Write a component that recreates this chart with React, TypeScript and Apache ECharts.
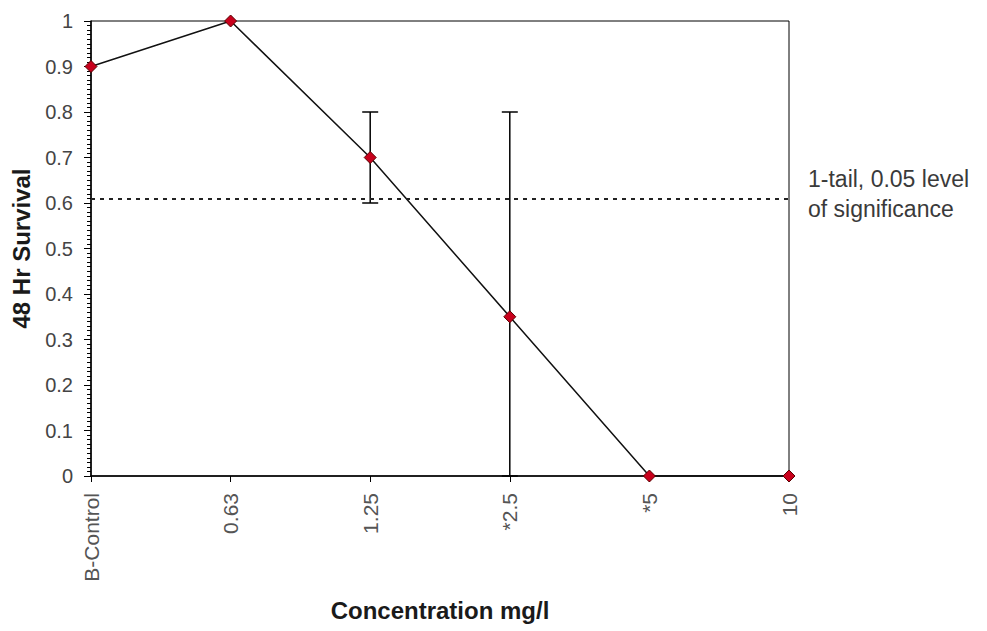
import React, { useEffect, useRef } from "react";
import * as echarts from "echarts";

const categories = ["B-Control", "0.63", "1.25", "*2.5", "*5", "10"];
const survival = [0.9, 1.0, 0.7, 0.35, 0, 0];
const errLow = [null, null, 0.6, 0, null, null];
const errHigh = [null, null, 0.8, 0.8, null, null];
const significance = 0.61;
const noteLines = ["1-tail, 0.05 level", "of significance"];

export default function App() {
  const ref = useRef<HTMLDivElement>(null);
  useEffect(() => {
    if (!ref.current) return;
    const chart = echarts.init(ref.current, null, { renderer: "svg" });
    const errData: any[] = [];
    categories.forEach((c, i) => {
      if (errLow[i] != null && errHigh[i] != null) errData.push([i, errLow[i], errHigh[i]]);
    });
    chart.setOption({
      animation: false,
      backgroundColor: "#ffffff",
      grid: {
        left: 91,
        top: 21,
        right: 198,
        bottom: 155,
        show: true,
        borderColor: "#000",
        borderWidth: 1,
      },
      xAxis: {
        type: "category",
        data: categories,
        boundaryGap: false,
        name: "Concentration mg/l",
        nameLocation: "middle",
        nameGap: 122,
        nameTextStyle: { fontFamily: "Liberation Sans", fontWeight: "bold", fontSize: 24, color: "#1a1a1a" },
        axisLine: { lineStyle: { color: "#000", width: 1.5 } },
        axisTick: { show: true, alignWithLabel: true, length: 6, lineStyle: { color: "#000" } },
        axisLabel: {
          rotate: 90,
          fontFamily: "Liberation Sans",
          fontSize: 21,
          color: "#555",
          margin: 17,
        },
        splitLine: { show: false },
      },
      yAxis: {
        type: "value",
        min: 0,
        max: 1,
        interval: 0.1,
        name: "48 Hr Survival",
        nameLocation: "middle",
        nameGap: 58,
        nameTextStyle: { fontFamily: "Liberation Sans", fontWeight: "bold", fontSize: 24, color: "#1a1a1a" },
        axisLine: { show: true, lineStyle: { color: "#000", width: 1.5 } },
        axisTick: { show: true, length: 7, lineStyle: { color: "#000" } },
        minorTick: { show: true, splitNumber: 10, length: 4, lineStyle: { color: "#000" } },
        axisLabel: {
          fontFamily: "Liberation Sans",
          fontSize: 20,
          color: "#444",
          margin: 18,
          formatter: (v: number) => String(Math.round(v * 10) / 10),
        },
        splitLine: { show: false },
      },
      series: [
        {
          type: "custom",
          data: errData,
          z: 1,
          renderItem: (params: any, api: any) => {
            const x = api.coord([api.value(0), api.value(1)])[0];
            const yLo = api.coord([api.value(0), api.value(1)])[1];
            const yHi = api.coord([api.value(0), api.value(2)])[1];
            const hw = 8;
            const style = { stroke: "#000", lineWidth: 1.5 };
            return {
              type: "group",
              children: [
                { type: "line", shape: { x1: x, y1: yLo, x2: x, y2: yHi }, style },
                { type: "line", shape: { x1: x - hw, y1: yHi, x2: x + hw, y2: yHi }, style },
                { type: "line", shape: { x1: x - hw, y1: yLo, x2: x + hw, y2: yLo }, style },
              ],
            };
          },
        },
        {
          type: "line",
          data: survival,
          z: 3,
          symbol: "diamond",
          symbolSize: 12,
          lineStyle: { color: "#111", width: 1.5 },
          itemStyle: { color: "#c8001c", borderColor: "#5a0000", borderWidth: 1 },
          markLine: {
            silent: true,
            symbol: "none",
            label: { show: false },
            lineStyle: { type: [4, 5], color: "#222", width: 2 },
            data: [{ yAxis: significance }],
          },
        },
      ],
      graphic: noteLines.map((t, i) => ({
        type: "text",
        x: 808,
        y: 179 + i * 30,
        style: {
          text: t,
          fontFamily: "Liberation Sans",
          fontSize: 23,
          fill: "#3a3a3a",
          textVerticalAlign: "middle",
          verticalAlign: "middle",
        },
      })),
    });
    return () => chart.dispose();
  }, []);
  return <div ref={ref} style={{ width: 987, height: 631, position: "absolute", left: 0, top: 0 }} />;
}
